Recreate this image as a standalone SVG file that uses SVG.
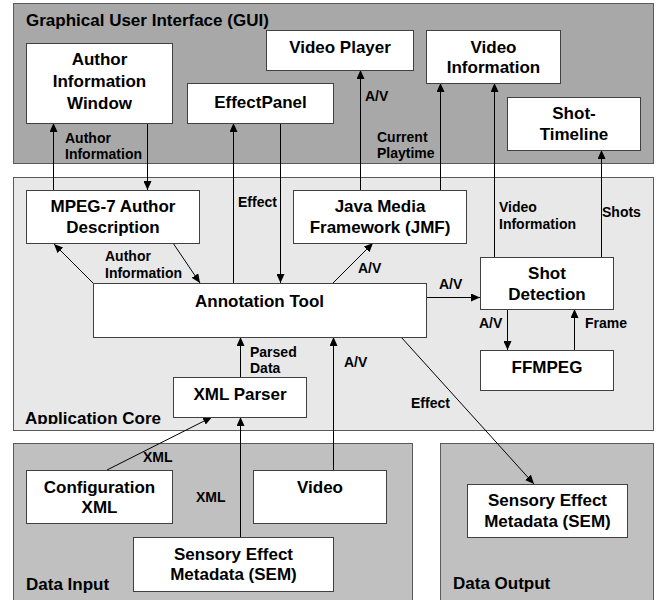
<svg xmlns="http://www.w3.org/2000/svg" width="656" height="600" viewBox="0 0 656 600">
<style>
.gui{fill:#a8a8a8;stroke:#5a5a5a;stroke-width:1}
.core{fill:#e8e8e8;stroke:#5a5a5a;stroke-width:1}
.data{fill:#c0c0c0;stroke:#5a5a5a;stroke-width:1}
.box{fill:#ffffff;stroke:#404040;stroke-width:1}
.t{font-family:"Liberation Sans",Arial,sans-serif;font-weight:bold;font-size:17px;fill:#000;text-anchor:middle}
.g{font-family:"Liberation Sans",Arial,sans-serif;font-weight:bold;font-size:17px;fill:#000}
.l{font-family:"Liberation Sans",Arial,sans-serif;font-weight:bold;font-size:14px;fill:#000}
.c{stroke:#000;stroke-width:1;fill:none;marker-end:url(#ah)}
</style>
<defs>
<marker id="ah" markerWidth="9" markerHeight="8" refX="9" refY="4" orient="auto" markerUnits="userSpaceOnUse">
<path d="M0,0 L9,4 L0,8 z" fill="#000"/>
</marker>
<clipPath id="coreclip"><rect x="13" y="177" width="641" height="247"/></clipPath>
</defs>
<rect width="656" height="600" fill="#ffffff"/>

<g id="panel-gui">
<rect class="gui" x="13.5" y="3.5" width="640" height="160"/>
<text class="g" x="26" y="26">Graphical User Interface (GUI)</text>
</g>
<g id="panel-core">
<rect class="core" x="13.5" y="177.5" width="640" height="253"/>
<text class="g" x="25" y="424" clip-path="url(#coreclip)">Application Core</text>
</g>
<g id="panel-input">
<rect class="data" x="13.5" y="443.5" width="399" height="170"/>
<text class="g" x="26" y="590">Data Input</text>
</g>
<g id="panel-output">
<rect class="data" x="440.5" y="443.5" width="213" height="170"/>
<text class="g" x="453" y="589">Data Output</text>
</g>

<g id="connectors">
<line class="c" x1="53.5" y1="190" x2="53.5" y2="123"/>
<line class="c" x1="147.5" y1="123" x2="147.5" y2="190"/>
<line class="c" x1="233.5" y1="283" x2="233.5" y2="123"/>
<line class="c" x1="280.5" y1="123" x2="280.5" y2="283"/>
<line class="c" x1="360.5" y1="190" x2="360.5" y2="70"/>
<line class="c" x1="440.5" y1="190" x2="440.5" y2="83"/>
<line class="c" x1="494.5" y1="257" x2="494.5" y2="83"/>
<line class="c" x1="601.5" y1="257" x2="601.5" y2="150"/>
<line class="c" x1="93" y1="283" x2="54" y2="244"/>
<line class="c" x1="173" y1="243" x2="200" y2="283"/>
<line class="c" x1="333" y1="283" x2="373" y2="243"/>
<line class="c" x1="426" y1="297.5" x2="480" y2="297.5"/>
<line class="c" x1="507.5" y1="309" x2="507.5" y2="350"/>
<line class="c" x1="574.5" y1="350" x2="574.5" y2="309"/>
<line class="c" x1="401" y1="337" x2="534" y2="484"/>
<line class="c" x1="240.5" y1="377" x2="240.5" y2="337"/>
<line class="c" x1="333.5" y1="470" x2="333.5" y2="337"/>
<line class="c" x1="240.5" y1="537" x2="240.5" y2="417"/>
<line class="c" x1="107" y1="470" x2="212" y2="417"/>
<text class="l" x="65" y="143">Author</text>
<text class="l" x="65" y="159">Information</text>
<text class="l" x="238" y="207">Effect</text>
<text class="l" x="365" y="101">A/V</text>
<text class="l" x="377" y="142">Current</text>
<text class="l" x="377" y="158">Playtime</text>
<text class="l" x="499" y="212">Video</text>
<text class="l" x="499" y="229">Information</text>
<text class="l" x="602" y="217">Shots</text>
<text class="l" x="105" y="261">Author</text>
<text class="l" x="105" y="278">Information</text>
<text class="l" x="358" y="273">A/V</text>
<text class="l" x="439" y="289">A/V</text>
<text class="l" x="479" y="328">A/V</text>
<text class="l" x="585" y="328">Frame</text>
<text class="l" x="411" y="408">Effect</text>
<text class="l" x="250" y="357">Parsed</text>
<text class="l" x="250" y="373">Data</text>
<text class="l" x="344" y="367">A/V</text>
<text class="l" x="196" y="502">XML</text>
<text class="l" x="143" y="462">XML</text>
</g>

<g id="node-author-window">
<rect class="box" x="26.5" y="43.5" width="146" height="80"/>
<text class="t" x="99.5" y="65">Author</text>
<text class="t" x="99.5" y="87">Information</text>
<text class="t" x="99.5" y="109">Window</text>
</g>
<g id="node-effectpanel">
<rect class="box" x="187.5" y="83.5" width="146" height="40"/>
<text class="t" x="260.5" y="108">EffectPanel</text>
</g>
<g id="node-video-player">
<rect class="box" x="266.5" y="30.5" width="147" height="40"/>
<text class="t" x="340" y="53">Video Player</text>
</g>
<g id="node-video-information">
<rect class="box" x="426.5" y="30.5" width="134" height="53"/>
<text class="t" x="493.5" y="53">Video</text>
<text class="t" x="493.5" y="73">Information</text>
</g>
<g id="node-shot-timeline">
<rect class="box" x="507.5" y="97.5" width="133" height="53"/>
<text class="t" x="574" y="119">Shot-</text>
<text class="t" x="574" y="140">Timeline</text>
</g>
<g id="node-mpeg7">
<rect class="box" x="26.5" y="190.5" width="173" height="53"/>
<text class="t" x="113" y="212">MPEG-7 Author</text>
<text class="t" x="113" y="233">Description</text>
</g>
<g id="node-jmf">
<rect class="box" x="293.5" y="190.5" width="173" height="53"/>
<text class="t" x="380" y="212">Java Media</text>
<text class="t" x="380" y="233">Framework (JMF)</text>
</g>
<g id="node-annotation-tool">
<rect class="box" x="93.5" y="283.5" width="333" height="54"/>
<text class="t" x="259.5" y="307">Annotation Tool</text>
</g>
<g id="node-shot-detection">
<rect class="box" x="480.5" y="257.5" width="133" height="52"/>
<text class="t" x="547" y="279">Shot</text>
<text class="t" x="547" y="300">Detection</text>
</g>
<g id="node-ffmpeg">
<rect class="box" x="480.5" y="350.5" width="133" height="40"/>
<text class="t" x="547" y="373">FFMPEG</text>
</g>
<g id="node-xml-parser">
<rect class="box" x="173.5" y="377.5" width="133" height="40"/>
<text class="t" x="240" y="400">XML Parser</text>
</g>
<g id="node-configuration-xml">
<rect class="box" x="26.5" y="470.5" width="146" height="53"/>
<text class="t" x="99.5" y="493">Configuration</text>
<text class="t" x="99.5" y="513">XML</text>
</g>
<g id="node-video">
<rect class="box" x="253.5" y="470.5" width="133" height="53"/>
<text class="t" x="320" y="493">Video</text>
</g>
<g id="node-sem-input">
<rect class="box" x="133.5" y="537.5" width="200" height="54"/>
<text class="t" x="233.5" y="560">Sensory Effect</text>
<text class="t" x="233.5" y="580">Metadata (SEM)</text>
</g>
<g id="node-sem-output">
<rect class="box" x="467.5" y="484.5" width="160" height="53"/>
<text class="t" x="547.5" y="506">Sensory Effect</text>
<text class="t" x="547.5" y="527">Metadata (SEM)</text>
</g>
</svg>
